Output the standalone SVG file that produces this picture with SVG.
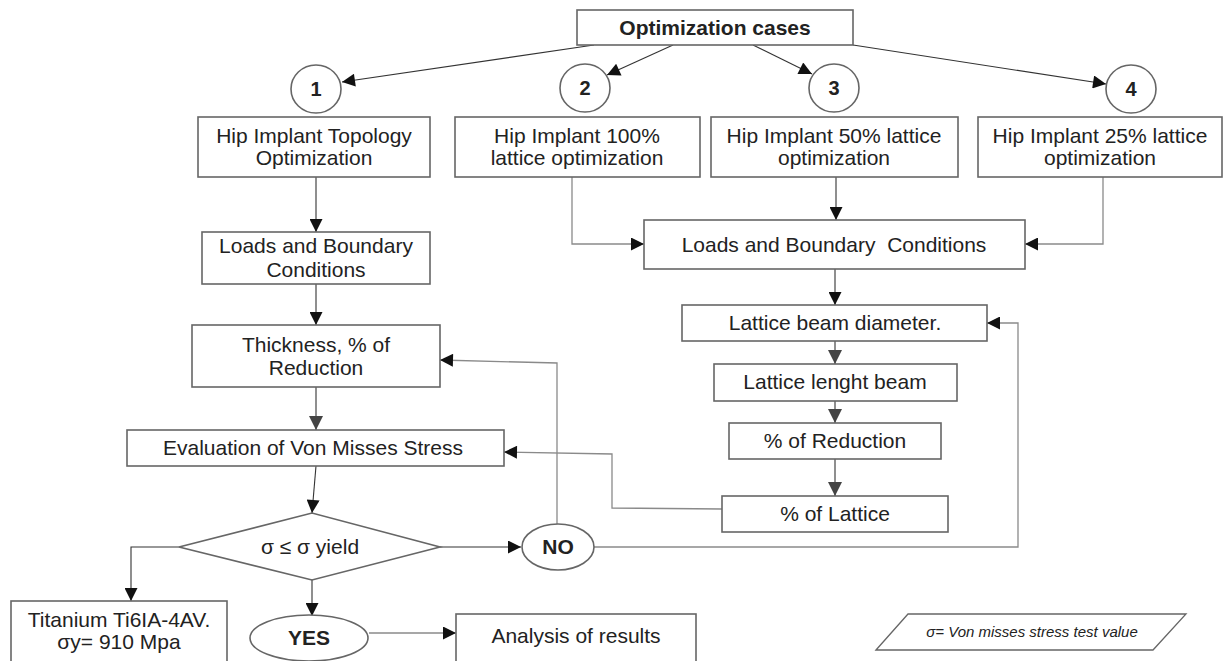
<svg xmlns="http://www.w3.org/2000/svg" width="1225" height="661" viewBox="0 0 1225 661">
<defs>
<style>
.box{fill:#fff;stroke:#666;stroke-width:1.6}
.t{font-family:"Liberation Sans",Arial,sans-serif;font-size:21px;fill:#222;text-anchor:middle}
.b{font-weight:bold}
.k{fill:none;stroke:#333;stroke-width:1.1}
.g{fill:none;stroke:#8a8a8a;stroke-width:1.3}
</style>
<marker id="ah" viewBox="0 0 10 10" refX="10" refY="5" markerWidth="20" markerHeight="13" markerUnits="userSpaceOnUse" orient="auto"><path d="M0,0L10,5L0,10z" fill="#111"/></marker>
<marker id="ahg" viewBox="0 0 10 10" refX="10" refY="5" markerWidth="20" markerHeight="14" markerUnits="userSpaceOnUse" orient="auto"><path d="M0,0L10,5L0,10z" fill="#444"/></marker>
</defs>
<rect width="1225" height="661" fill="#fff"/>
<g id="connectors">
<path class="k" d="M594,45L342,82" marker-end="url(#ah)"/>
<path class="k" d="M673,45L607,75" marker-end="url(#ah)"/>
<path class="k" d="M753,45L812,74" marker-end="url(#ah)"/>
<path class="k" d="M853,45L1106,84" marker-end="url(#ah)"/>
<path class="k" d="M316,177V232" marker-end="url(#ah)"/>
<path class="k" d="M316,284V325" marker-end="url(#ah)"/>
<path class="k" d="M316,387V430" marker-end="url(#ahg)"/>
<path class="k" d="M316,466L312,513" marker-end="url(#ah)"/>
<path class="g" d="M572,177V244H644" marker-end="url(#ah)"/>
<path class="k" d="M836,177V220" marker-end="url(#ah)"/>
<path class="g" d="M1103,177V244H1025" marker-end="url(#ah)"/>
<path class="k" d="M835,269V305" marker-end="url(#ah)"/>
<path class="k" d="M835,341V364" marker-end="url(#ahg)"/>
<path class="k" d="M835,401V423" marker-end="url(#ahg)"/>
<path class="k" d="M835,459V496" marker-end="url(#ahg)"/>
<path class="g" d="M722,509L612,508V454L504,452" marker-end="url(#ah)"/>
<path class="g" d="M557,524V363L440,360" marker-end="url(#ah)"/>
<path class="g" d="M594,547H1018V323H987" marker-end="url(#ah)"/>
<path class="k" d="M440,547H521" marker-end="url(#ah)"/>
<path class="k" d="M179,547H131V601" marker-end="url(#ah)"/>
<path class="k" d="M312,580V616" marker-end="url(#ah)"/>
<path class="g" d="M369,633H456" marker-end="url(#ah)"/>
</g>
<g id="opt"><rect class="box" x="577" y="10" width="276" height="35"/><text class="t b" x="715" y="35">Optimization cases</text></g>
<g id="c1"><ellipse class="box" cx="316" cy="89" rx="25" ry="24"/><text class="t b" x="316" y="96" style="font-size:20px">1</text></g>
<g id="c2"><ellipse class="box" cx="585" cy="88" rx="25" ry="24"/><text class="t b" x="585" y="95" style="font-size:20px">2</text></g>
<g id="c3"><ellipse class="box" cx="834" cy="88" rx="25" ry="24"/><text class="t b" x="834" y="95" style="font-size:20px">3</text></g>
<g id="c4"><ellipse class="box" cx="1131" cy="89" rx="25" ry="24"/><text class="t b" x="1131" y="96" style="font-size:20px">4</text></g>
<g id="b1"><rect class="box" x="198" y="117" width="232" height="60"/><text class="t" x="314" y="143">Hip Implant Topology</text><text class="t" x="314" y="165">Optimization</text></g>
<g id="b2"><rect class="box" x="455" y="117" width="245" height="60"/><text class="t" x="577" y="143">Hip Implant 100%</text><text class="t" x="577" y="165">lattice optimization</text></g>
<g id="b3"><rect class="box" x="711" y="117" width="247" height="60"/><text class="t" x="834" y="143">Hip Implant 50% lattice</text><text class="t" x="834" y="165">optimization</text></g>
<g id="b4"><rect class="box" x="978" y="117" width="244" height="60"/><text class="t" x="1100" y="143">Hip Implant 25% lattice</text><text class="t" x="1100" y="165">optimization</text></g>
<g id="lbc1"><rect class="box" x="202" y="232" width="228" height="52"/><text class="t" x="316" y="253">Loads and Boundary</text><text class="t" x="316" y="277">Conditions</text></g>
<g id="thick"><rect class="box" x="192" y="325" width="248" height="62"/><text class="t" x="316" y="352">Thickness, % of</text><text class="t" x="316" y="375">Reduction</text></g>
<g id="eval"><rect class="box" x="127" y="430" width="377" height="36"/><text class="t" x="313" y="455">Evaluation of Von Misses Stress</text></g>
<g id="dia"><polygon class="box" points="179,547 312,513 440,547 312,580"/><text class="t" x="310" y="554">σ ≤ σ yield</text></g>
<g id="no"><ellipse class="box" cx="558" cy="547" rx="36" ry="23"/><text class="t b" x="558" y="554">NO</text></g>
<g id="yes"><ellipse class="box" cx="309" cy="638" rx="59" ry="23"/><text class="t b" x="309" y="645">YES</text></g>
<g id="ti"><rect class="box" x="11" y="601" width="216" height="70"/><text class="t" x="119" y="627">Titanium Ti6IA-4AV.</text><text class="t" x="119" y="649">σy= 910 Mpa</text></g>
<g id="an"><rect class="box" x="456" y="614" width="240" height="60"/><text class="t" x="576" y="643">Analysis of results</text></g>
<g id="lbc2"><rect class="box" x="644" y="220" width="381" height="49"/><text class="t" x="834" y="252" xml:space="preserve">Loads and Boundary  Conditions</text></g>
<g id="lbd"><rect class="box" x="682" y="305" width="305" height="36"/><text class="t" x="835" y="330">Lattice beam diameter.</text></g>
<g id="llb"><rect class="box" x="714" y="364" width="243" height="37"/><text class="t" x="835" y="389">Lattice lenght beam</text></g>
<g id="red"><rect class="box" x="729" y="423" width="212" height="36"/><text class="t" x="835" y="448">% of Reduction</text></g>
<g id="lat"><rect class="box" x="722" y="496" width="226" height="36"/><text class="t" x="835" y="521">% of Lattice</text></g>
<g id="legend"><polygon class="box" points="876,650 908,614 1186,614 1153,650" style="stroke-width:1.3"/><text class="t" x="1032" y="637" style="font-size:15px;font-style:italic">σ= Von misses stress test value</text></g>
</svg>
